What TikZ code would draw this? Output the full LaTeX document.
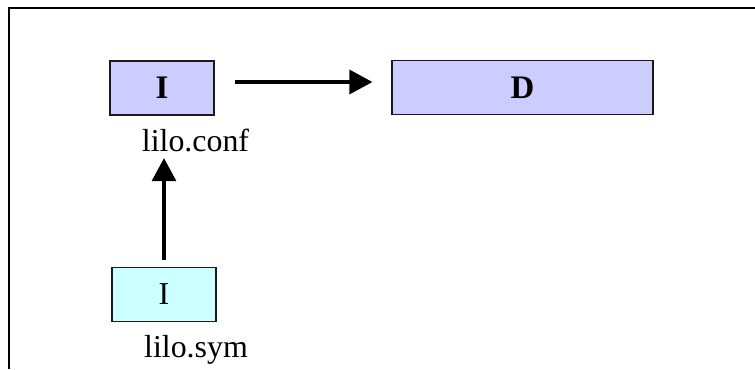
\documentclass[tikz,border=0pt]{standalone}
\usepackage{fontspec}
\setmainfont{Liberation Serif}
\usetikzlibrary{arrows.meta}

\definecolor{lavbox}{HTML}{CCCCFF}
\definecolor{cyanbox}{HTML}{CCFFFF}

\begin{document}
\begin{tikzpicture}[x=1bp,y=-1bp,
    filebox/.style={draw=black!90,line width=1.1bp,inner sep=0pt,minimum height=54bp},
    filename/.style={anchor=base,inner sep=0pt,font=\fontsize{32}{38}\selectfont},
    bigarrow/.style={line width=3.2bp,-{Triangle[length=23bp,width=24bp]}}]
            % Define the sizes of the boxes
            \def\w{104}  % width of the small boxes
            \def\W{261}  % width of the long box
            \def\boxbf{\fontsize{33}{38}\selectfont\bfseries}

            % Page size and slide border
            \useasboundingbox (0,0) rectangle (755,369);
            \draw[line width=1.3bp] (9,369) -- (9,8) -- (755,8);

            % Draw the boxes
            \node[filebox,fill=lavbox,minimum width=\w bp] (conf) at (162,88) {\boxbf I};
            \node[filebox,fill=lavbox,minimum width=\W bp] (dest) at (522.5,87.5) {\boxbf D};
            \node[filebox,fill=cyanbox,minimum width=\w bp] (sym) at (164,294.5) {\fontsize{32}{38}\selectfont I};

            % Draw the file names
            \node[filename] (conflabel) at (195.5,151.5) {lilo.conf};
            \node[filename] (symlabel) at (196,357) {lilo.sym};

            % Draw the arrows
            \draw[bigarrow,shorten <=20bp,shorten >=19bp] (conf.east |- 0,82) -- (dest.west |- 0,82);
            \draw[bigarrow,shorten <=7bp,shorten >=6bp] (sym.north) -- (sym.north |- conflabel.south);
\end{tikzpicture}
\end{document}
